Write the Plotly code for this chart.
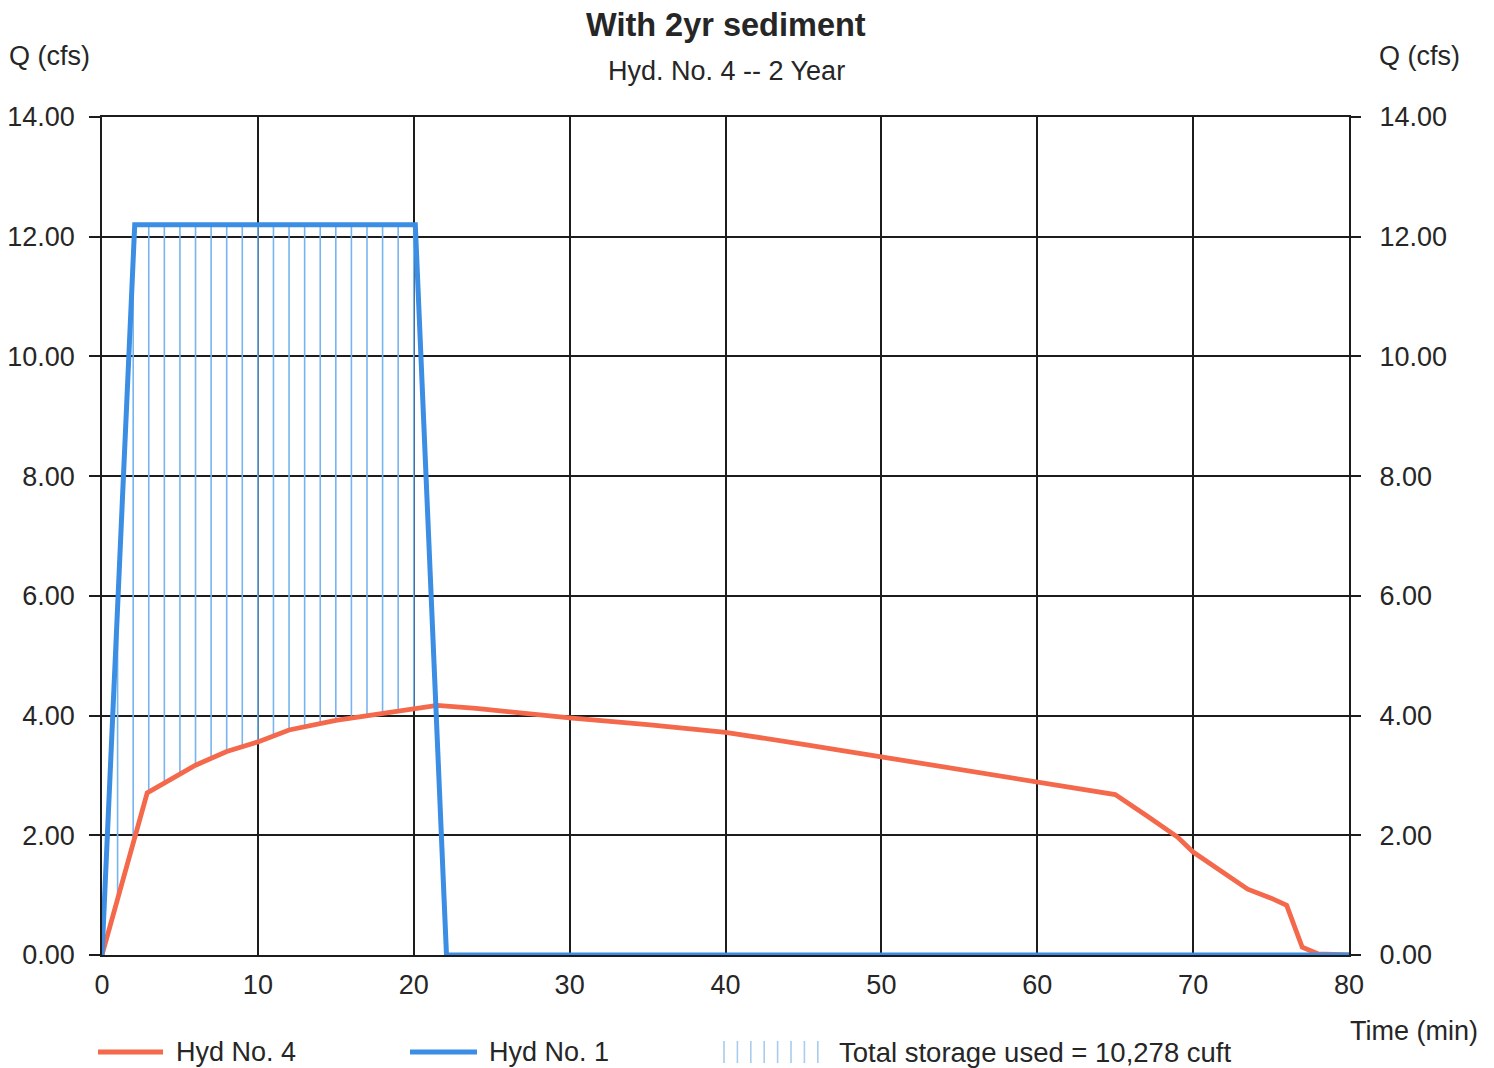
import numpy as np
import plotly.graph_objects as go

# ---- Hydrograph data -------------------------------------------------------
# Hyd No. 1 : inflow hydrograph (cfs vs minutes)
inflow_t = [0, 2.1, 20.1, 22.1, 80]
inflow_q = [0, 12.2, 12.2, 0, 0]

# Hyd No. 4 : routed outflow hydrograph (cfs vs minutes)
outflow_t = [0, 2.9, 6, 8, 10, 12, 15, 18, 20, 21.5, 24, 27, 30, 35, 40, 45,
             50, 55, 60, 65, 67, 69, 70, 72, 73.5, 75, 76, 77, 78, 80]
outflow_q = [0, 2.71, 3.17, 3.40, 3.56, 3.76, 3.92, 4.03, 4.11, 4.17, 4.12,
             4.04, 3.96, 3.85, 3.72, 3.52, 3.31, 3.09, 2.87, 2.68, 2.33, 1.97,
             1.72, 1.36, 1.10, 0.95, 0.83, 0.13, 0.02, 0]

# minutes at which the storage hatch is drawn
storage_t = list(range(1, 21))

x_ticks = [0, 10, 20, 30, 40, 50, 60, 70, 80]
y_ticks = [0, 2, 4, 6, 8, 10, 12, 14]

storage_label = "Total storage used = 10,278 cuft"

# ---- Styling ---------------------------------------------------------------
FONT = "Liberation Sans, Arial, sans-serif"
TXT = "#262626"
GRID = "#1c1c1c"
ORANGE = "#f4694b"
BLUE = "#3b8ee3"
HATCH = "#78b4ee"
FS = 27

W, H = 1494, 1068
L, R, T, B = 102, 145, 117, 113
PW, PH = W - L - R, H - T - B


def px(xp):
    return (xp - L) / PW


def py(yp):
    return (H - B - yp) / PH


# ---- Storage hatch: vertical strokes between outflow and inflow ------------
hx, hy = [], []
for t in storage_t:
    lo = float(np.interp(t, outflow_t, outflow_q))
    hi = float(np.interp(t, inflow_t, inflow_q))
    if hi > lo:
        hx += [t, t, None]
        hy += [lo, hi, None]

fig = go.Figure()
fig.add_trace(go.Scatter(x=hx, y=hy, mode="lines",
                         line=dict(color=HATCH, width=1.6),
                         hoverinfo="skip", showlegend=False))
fig.add_trace(go.Scatter(x=outflow_t, y=outflow_q, mode="lines", name="Hyd No. 4",
                         line=dict(color=ORANGE, width=4.8), showlegend=False))
fig.add_trace(go.Scatter(x=inflow_t, y=inflow_q, mode="lines", name="Hyd No. 1",
                         line=dict(color=BLUE, width=5), showlegend=False,
                         yaxis="y2"))

axis_common = dict(
    range=[0, 14], tickvals=y_ticks, tickformat=".2f",
    ticks="outside", ticklen=11, tickwidth=1.5, tickcolor=GRID,
    tickfont=dict(family=FONT, size=FS, color=TXT),
    zeroline=False, fixedrange=True, automargin=False,
)

fig.update_layout(
    width=W, height=H,
    margin=dict(l=L, r=R, t=T, b=B, autoexpand=False),
    paper_bgcolor="white", plot_bgcolor="white",
    xaxis=dict(range=[0, 80], tickvals=x_ticks, showgrid=True,
               gridcolor=GRID, gridwidth=1.5, zeroline=False,
               showline=True, linecolor=GRID, linewidth=1.5, mirror=True,
               ticks="", ticklabelstandoff=5, automargin=False,
               tickfont=dict(family=FONT, size=FS, color=TXT)),
    yaxis=dict(showgrid=True, gridcolor=GRID, gridwidth=1.5,
               showline=True, linecolor=GRID, linewidth=1.5, mirror=True,
               ticklabelstandoff=9, **axis_common),
    yaxis2=dict(overlaying="y", side="right", showgrid=False,
                showline=False, ticklabelstandoff=13, **axis_common),
)

ann = []
# titles
ann.append(dict(text="<b>With 2yr sediment</b>", x=px(726), y=py(25),
                font=dict(family=FONT, size=32.5, color=TXT)))
ann.append(dict(text="Hyd. No. 4 -- 2 Year", x=px(726), y=py(71),
                font=dict(family=FONT, size=FS, color=TXT)))
ann.append(dict(text="Q (cfs)", x=px(7), y=py(56), xanchor="left",
                font=dict(family=FONT, size=FS, color=TXT)))
ann.append(dict(text="Q (cfs)", x=px(1462), y=py(56), xanchor="right",
                font=dict(family=FONT, size=FS, color=TXT)))
ann.append(dict(text="Time (min)", x=px(1480), y=py(1031), xanchor="right",
                font=dict(family=FONT, size=FS, color=TXT)))

# legend text
LEG_Y = 1052
ann.append(dict(text="Hyd No. 4", x=px(174), y=py(LEG_Y), xanchor="left",
                font=dict(family=FONT, size=FS, color=TXT)))
ann.append(dict(text="Hyd No. 1", x=px(487), y=py(LEG_Y), xanchor="left",
                font=dict(family=FONT, size=FS, color=TXT)))
ann.append(dict(text=storage_label, x=px(837), y=py(LEG_Y), xanchor="left",
                font=dict(family=FONT, size=27.5, color=TXT)))

for a in ann:
    a.update(xref="paper", yref="paper", showarrow=False, yanchor="middle")
    a.setdefault("xanchor", "center")
fig.update_layout(annotations=ann)

# legend keys
shapes = [
    dict(type="line", x0=px(98), x1=px(163), y0=py(LEG_Y), y1=py(LEG_Y),
         line=dict(color=ORANGE, width=4.8)),
    dict(type="line", x0=px(410), x1=px(477), y0=py(LEG_Y), y1=py(LEG_Y),
         line=dict(color=BLUE, width=5)),
]
for k in range(8):
    xk = 724 + k * 13.4
    shapes.append(dict(type="line", x0=px(xk), x1=px(xk),
                       y0=py(LEG_Y - 11), y1=py(LEG_Y + 11),
                       line=dict(color="#a9cbee", width=1.6)))
for s in shapes:
    s.update(xref="paper", yref="paper", layer="above")
fig.update_layout(shapes=shapes)

fig.write_html("out.html")
